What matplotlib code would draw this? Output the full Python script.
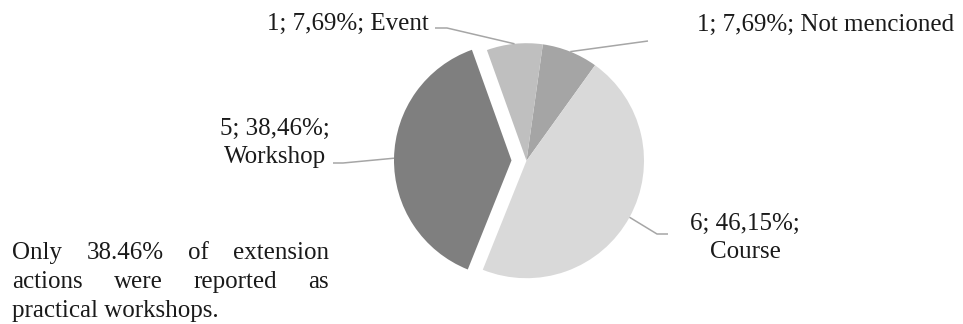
import numpy as np
import matplotlib
matplotlib.use("Agg")
from matplotlib import pyplot as plt

# Extension actions by type
categories = ["Not mencioned", "Course", "Workshop", "Event"]
counts = [1, 6, 5, 1]
colors = ["#a5a5a5", "#d9d9d9", "#7f7f7f", "#bfbfbf"]
explode = [0, 0, 15, 0]

note_lines = [["Only", "38.46%", "of", "extension"],
              ["actions", "were", "reported", "as"],
              ["practical workshops."]]

W, H = 963, 324
plt.rcParams["font.family"] = ["Liberation Serif", "DejaVu Serif"]
FS = 18
LINE_COLOR = "#a6a6a6"


def py(y):
    # pixel row (from top) -> data y
    return H - y


fig = plt.figure(figsize=(W / 100, H / 100), dpi=100)
ax = fig.add_axes([0, 0, 1, 1])

wedges, _ = ax.pie(counts, colors=colors, explode=explode, startangle=82,
                   counterclock=False, center=(526.5, py(160.7)), radius=117.5,
                   wedgeprops=dict(linewidth=0))
ax.set_xlim(0, W)
ax.set_ylim(0, H)
ax.set_aspect("auto")
ax.axis("off")

total = sum(counts)
# leader elbow/end points and label anchor (x, first baseline, ha) per slice
leaders = {
    "Not mencioned": ([(648, 41)], (697, 31), "left"),
    "Course": ([(657, 234), (668, 234)], (745, 230), "center"),
    "Workshop": ([(343, 163), (333, 163)], (275, 135), "center"),
    "Event": ([(447, 28), (435, 28)], (429, 30), "right"),
}

for w, name, n in zip(wedges, categories, counts):
    pct = f"{100 * n / total:.2f}".replace(".", ",")
    if name in ("Workshop", "Course"):
        lines = [f"{n}; {pct}%;", name]
    else:
        lines = [f"{n}; {pct}%; {name}"]
    mid = np.deg2rad((w.theta1 + w.theta2) / 2)
    cx, cy = w.center
    sx, sy = cx + w.r * np.cos(mid), cy + w.r * np.sin(mid)
    pts, (tx, ty), ha = leaders[name]
    xs = [sx] + [p[0] for p in pts]
    ys = [sy] + [py(p[1]) for p in pts]
    ax.plot(xs, ys, color=LINE_COLOR, lw=1.1, solid_capstyle="butt")
    for i, line in enumerate(lines):
        ax.text(tx, py(ty + 28 * i), line, ha=ha, va="baseline",
                fontsize=FS, color="#1a1a1a")

# justified note in the lower left corner
x0, x1 = 12, 329
baselines = [259, 288, 317]
fig.canvas.draw()
renderer = fig.canvas.get_renderer()
for words, base in zip(note_lines, baselines):
    texts = [ax.text(0, py(base), w, fontsize=FS, va="baseline", ha="left",
                     color="#1a1a1a") for w in words]
    widths = [t.get_window_extent(renderer).width for t in texts]
    if len(words) > 1 and words is not note_lines[-1]:
        gap = (x1 - x0 - sum(widths)) / (len(words) - 1)
    else:
        gap = 0
    x = x0
    for t, wd in zip(texts, widths):
        t.set_x(x)
        x += wd + gap

fig.savefig("out.png", dpi=100)
